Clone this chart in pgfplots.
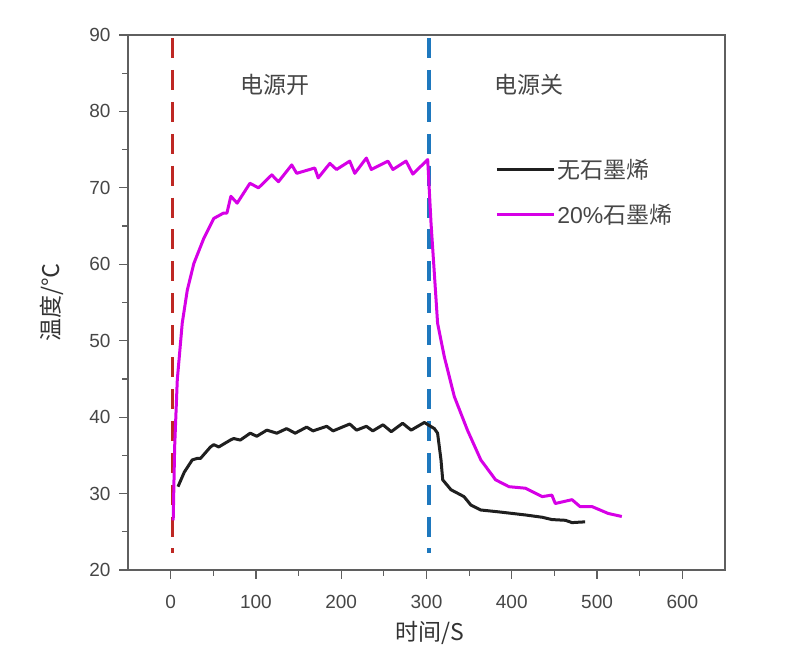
\documentclass[border=0pt]{standalone}
\usepackage{pgfplots}
\pgfplotsset{compat=1.18}
\usepackage{fontspec}
\setmainfont{Liberation Sans}
\newfontfamily\cjk{Noto Sans CJK SC}
\definecolor{pinkline}{RGB}{214,0,230}
\definecolor{redline}{RGB}{190,40,35}
\definecolor{blueline}{RGB}{30,120,190}
\definecolor{axisgray}{RGB}{95,95,95}
\definecolor{textgray}{RGB}{70,70,70}

\begin{document}
\begin{tikzpicture}
\path[use as bounding box] (0,0) rectangle (800pt,668pt);
\begin{axis}[
    at={(128pt,98pt)}, anchor=south west,
    scale only axis,
    width=597pt, height=535pt,
    xmin=-50, xmax=650,
    ymin=20, ymax=90,
    xtick={0,100,...,600},
    ytick={20,30,...,90},
    minor x tick num=1,
    minor y tick num=1,
    tick pos=left,
    tick align=outside,
    major tick length=9pt,
    minor tick length=6pt,
    tick style={axisgray, line width=1.2pt},
    axis line style={axisgray, line width=1.5pt},
    /pgf/number format/assume math mode=true,
    ticklabel style={font=\fontsize{19}{22}\selectfont, text=textgray},
    xticklabel style={yshift=-13pt},
    yticklabel style={xshift=-5pt},
    xlabel={\cjk 时间/S},
    ylabel={\cjk 温度/℃},
    label style={font=\fontsize{23}{27}\selectfont, text=black!80},
    xlabel style={at={(rel axis cs:0.506,-0.118)}, anchor=center},
    ylabel style={at={(rel axis cs:-0.128,0.5)}, anchor=center},
    legend style={at={(rel axis cs:0.615,0.772)}, anchor=north west,
        draw=none, fill=none, inner sep=0pt,
        font=\fontsize{23}{28}\selectfont, text=textgray,
        row sep=20pt},
    legend cell align=left,
    legend image code/.code={\draw[#1, line width=3pt] (0pt,0pt) -- (57pt,0pt);},
]
% power on / off markers
\addplot[redline, line width=3.6pt, dash pattern=on 20pt off 11.9pt, forget plot]
    coordinates {(2,89.6) (2,22.2)};
\addplot[blueline, line width=3.6pt, dash pattern=on 20pt off 11.9pt, forget plot]
    coordinates {(303,89.6) (303,22.2)};

\addplot[black!88, line width=3pt, line join=round]
    coordinates {
    (8.6,30.9) (16,32.8) (25.3,34.4) (31.1,34.6) (35,34.6) (46.7,36.1)
    (50.6,36.4) (56.4,36.1) (70,37.0) (73.9,37.2) (81.7,37.0) (93.3,37.9)
    (101,37.5) (112.8,38.3) (124.5,37.9) (136,38.5) (146,37.9) (159.5,38.7)
    (167,38.2) (183,38.8) (190.5,38.2) (210,39.1) (218,38.3) (229.5,38.8)
    (237,38.2) (249,39.0) (258.7,38.1) (272,39.2) (282,38.3) (297.5,39.3)
    (309.2,38.5) (313,37.9) (317,34.4) (319,31.8) (328.7,30.5) (344,29.6)
    (352,28.5) (363.7,27.85) (385,27.6) (400.6,27.4) (416,27.2) (435.7,26.9)
    (447,26.6) (463,26.5) (470.6,26.2) (486,26.3)
    };
\addlegendentry{\cjk 无石墨烯}

\addplot[pinkline, line width=3pt, line join=round]
    coordinates {
    (3,26.5) (4.7,36.1) (7.8,44.9) (13.6,52.3) (19.5,56.6) (27.2,60.1)
    (38.9,63.4) (50.6,66.0) (62,66.7) (66,66.7) (70.6,68.9) (78,68.0)
    (93,70.6) (103,70.0) (118.6,71.7) (126.4,70.8) (142,73.0) (147.8,71.9)
    (169,72.6) (173,71.3) (186.7,73.2) (194.5,72.4) (210,73.5) (215.9,71.9)
    (229.5,73.9) (235.3,72.4) (254.8,73.5) (260.6,72.4) (276,73.5) (284,71.8)
    (301.4,73.7) (305.3,65.4) (309.2,58.8) (313,52.3) (320.9,47.9) (332.6,42.7)
    (348,38.3) (363.7,34.4) (381,31.8) (396.7,30.9) (416,30.7) (435.7,29.6)
    (447,29.8) (451,28.7) (470.6,29.2) (480,28.3) (494,28.3) (513,27.4)
    (529,27.0)
    };
\addlegendentry{20\%{\cjk 石墨烯}}

\node[font=\cjk\fontsize{23}{28}\selectfont, text=textgray] at (axis cs:122,83.5) {电源开};
\node[font=\cjk\fontsize{23}{28}\selectfont, text=textgray] at (axis cs:420,83.5) {电源关};
\end{axis}
\end{tikzpicture}
\end{document}
